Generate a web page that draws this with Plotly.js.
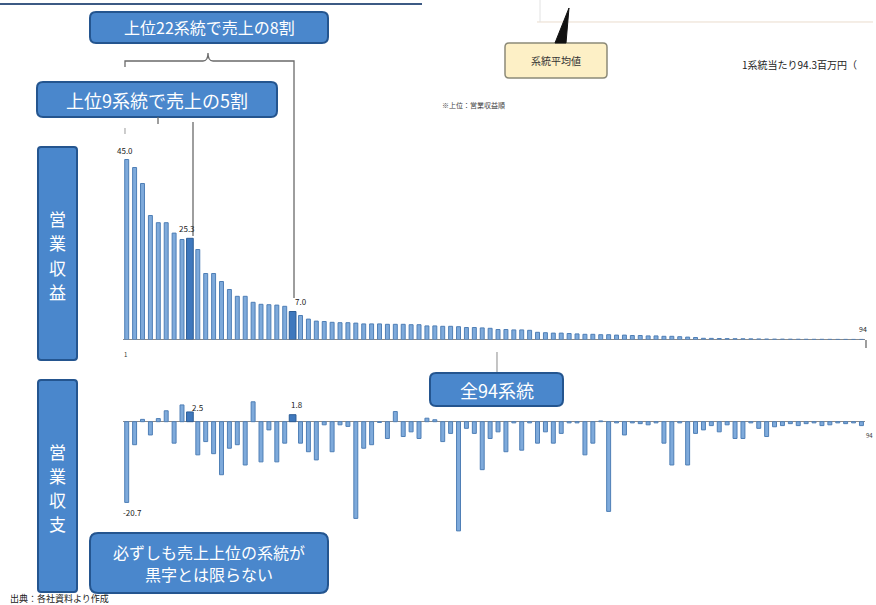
<!DOCTYPE html>
<html><head><meta charset="utf-8">
<script src="https://cdn.plot.ly/plotly-3.0.1.min.js"></script>
<style>html,body{margin:0;padding:0;background:#fff}#chart{width:876px;height:605px}</style>
</head><body><div id="chart"></div>
<script>
// ---- data ----
const routeNo = [1,2,3,4,5,6,7,8,9,10,11,12,13,14,15,16,17,18,19,20,21,22,23,24,25,26,27,28,29,30,
31,32,33,34,35,36,37,38,39,40,41,42,43,44,45,46,47,48,49,50,51,52,53,54,55,56,57,58,59,60,
61,62,63,64,65,66,67,68,69,70,71,72,73,74,75,76,77,78,79,80,81,82,83,84,85,86,87,88,89,90,91,92,93,94];
const revenue = [45.0,43.0,39.0,31.0,29.2,29.2,26.6,25.0,25.3,22.5,16.5,16.5,14.5,12.5,10.8,10.8,9.3,8.8,8.7,8.6,
8.3,7.0,6.0,5.1,4.6,4.5,4.3,4.2,4.2,4.1,3.9,3.9,3.9,3.8,3.8,3.8,3.7,3.7,3.4,3.4,
3.3,3.3,3.2,3.0,3.0,2.9,2.8,2.5,2.5,2.4,2.4,2.3,1.8,1.7,1.6,1.6,1.5,1.4,1.3,1.3,
1.2,1.2,1.1,1.1,1.0,1.0,0.9,0.9,0.8,0.8,0.7,0.6,0.5,0.3,0.28,0.25,0.22,0.2,0.18,0.16,
0.14,0.12,0.1,0.09,0.08,0.07,0.06,0.05,0.05,0.04,0.03,0.03,0.02,0.02];
const balance = [-20.7,-5.9,0.6,-3.4,0.8,2.8,-5.5,4.3,2.5,-8.5,-5.1,-8.2,-13.6,-6.8,-5.9,-11.1,5.1,-10.3,-2.1,-10.3,
-5.5,1.8,-5.5,-7.7,-9.8,-0.8,-7.7,-0.8,-1.2,-24.8,-6.8,-5.9,-0.2,-4.3,2.6,-3.8,-2.6,-4.3,0.9,0.5,
-5.1,-3.0,-28.0,-1.7,-3.0,-12.3,-4.3,-2.6,-7.7,-0.3,-7.3,-0.3,-5.5,-2.6,-5.5,-3.0,-0.3,-0.3,-8.5,-5.5,
0.2,-23.0,-0.3,-3.4,-0.3,-0.5,-0.8,-0.3,-5.5,-11.1,-0.3,-11.1,-3.0,-2.1,-1.0,-2.6,-0.8,-4.3,-4.3,-0.3,
-1.7,-3.8,-1.3,-1.0,-0.5,-1.0,-0.5,-0.3,-1.0,-0.8,-0.3,-0.5,-0.3,-1.0];
const highlighted = [1,9,22];   // labelled routes
const boxTop = "上位22系統で売上の8割";
const boxTop2 = "上位9系統で売上の5割";
const boxAll = "全94系統";
const boxNoteLines = ["必ずしも売上上位の系統が","黒字とは限らない"];
const labelRev = ["営","業","収","益"];
const labelBal = ["営","業","収","支"];

// ---- helpers (pixel -> paper) ----
const W=876,H=605;
const X=x=>x/W, Y=y=>1-y/H;
const f=v=>v.toFixed(5);
function rr(x0,y0,x1,y1,r){
  return `M ${f(X(x0+r))},${f(Y(y0))} L ${f(X(x1-r))},${f(Y(y0))} Q ${f(X(x1))},${f(Y(y0))} ${f(X(x1))},${f(Y(y0+r))} `+
  `L ${f(X(x1))},${f(Y(y1-r))} Q ${f(X(x1))},${f(Y(y1))} ${f(X(x1-r))},${f(Y(y1))} L ${f(X(x0+r))},${f(Y(y1))} `+
  `Q ${f(X(x0))},${f(Y(y1))} ${f(X(x0))},${f(Y(y1-r))} L ${f(X(x0))},${f(Y(y0+r))} Q ${f(X(x0))},${f(Y(y0))} ${f(X(x0+r))},${f(Y(y0))} Z`;
}
function poly(pts,close){
  return pts.map((p,i)=>(i?'L ':'M ')+f(X(p[0]))+','+f(Y(p[1]))).join(' ')+(close?' Z':'');
}
const BOXFILL='#4a87cc', BOXLINE='#24558f';
const box=(x0,y0,x1,y1,r)=>({type:'path',xref:'paper',yref:'paper',layer:'below',path:rr(x0,y0,x1,y1,r),fillcolor:BOXFILL,line:{color:BOXLINE,width:2}});
const ln=(pts,color,w)=>({type:'path',xref:'paper',yref:'paper',path:poly(pts,false),line:{color:color,width:w}});

const barColor = routeNo.map(n=>highlighted.includes(n)&&n!==1?'#3f78bd':'#7eaadb');
const lineColor = routeNo.map(n=>highlighted.includes(n)&&n!==1?'#2d5d96':'#4f7fb6');
const barW = routeNo.map(n=>highlighted.includes(n)&&n!==1?0.85:0.5);

const traces=[
 {type:'bar',x:routeNo,y:revenue,xaxis:'x',yaxis:'y',width:barW,
  marker:{color:barColor,line:{color:lineColor,width:1}},hoverinfo:'skip'},
 {type:'bar',x:routeNo,y:balance,xaxis:'x2',yaxis:'y2',width:barW,
  marker:{color:barColor,line:{color:lineColor,width:1}},hoverinfo:'skip'}
];

const xd=[X(122.75),X(865.4)];
const ax={showgrid:false,showticklabels:false,ticks:'',showline:false,zeroline:false,range:[0.5,94.5],fixedrange:true};
const font="'Noto Sans CJK JP','Noto Sans',sans-serif";

const ann=[];
const A=(x,y,text,size,color,extra)=>ann.push(Object.assign({xref:'paper',yref:'paper',x:X(x),y:Y(y),text:text,showarrow:false,
  xanchor:'center',yanchor:'middle',font:{family:font,size:size,color:color}},extra||{}));
A(209,27.5,boxTop,16,'#fff');
A(157,99.5,boxTop2,18,'#fff');
labelRev.forEach((c,i)=>A(57.5,219+i*24,c,17,'#fff'));
labelBal.forEach((c,i)=>A(57.5,451+i*24,c,17,'#fff'));
A(496.5,389.5,boxAll,18,'#fff');
boxNoteLines.forEach((t,i)=>A(209,552+i*22,t,16,'#fff'));
A(556,60,'系統平均値',10,'#333');
A(740,65,'1系統当たり94.3百万円（',10,'#222',{xanchor:'left'});
A(440,105,'※上位：営業収益順',7,'#444',{xanchor:'left'});
A(8,598,'出典：各社資料より作成',9,'#222',{xanchor:'left'});
A(125,354,String(routeNo[0]),6,'#333');
A(863,329,String(routeNo[93]),7,'#222');
A(869,435,String(routeNo[93]),6,'#333');
// bar value labels
const i1=0,i9=8,i22=21;
ann.push({xref:'x',yref:'y',x:routeNo[i1],y:revenue[i1],text:revenue[i1].toFixed(1),showarrow:false,yshift:9,xshift:-2,font:{family:font,size:8,color:'#222'}});
ann.push({xref:'x',yref:'y',x:routeNo[i9],y:revenue[i9],text:revenue[i9].toFixed(1),showarrow:false,yshift:10,xshift:-3,font:{family:font,size:8,color:'#222'}});
ann.push({xref:'x',yref:'y',x:routeNo[i22],y:revenue[i22],text:revenue[i22].toFixed(1),showarrow:false,yshift:10,xshift:8,font:{family:font,size:8,color:'#222'}});
ann.push({xref:'x2',yref:'y2',x:routeNo[i1],y:balance[i1],text:balance[i1].toFixed(1),showarrow:false,yshift:-10,xshift:6,font:{family:font,size:8,color:'#222'}});
ann.push({xref:'x2',yref:'y2',x:routeNo[i9],y:balance[i9],text:balance[i9].toFixed(1),showarrow:false,yshift:4,xshift:8,font:{family:font,size:8,color:'#222'}});
ann.push({xref:'x2',yref:'y2',x:routeNo[i22],y:balance[i22],text:balance[i22].toFixed(1),showarrow:false,yshift:10,xshift:4,font:{family:font,size:8,color:'#222'}});

const shapes=[
 ln([[0,4],[422,4]],'#3c5a84',2),
 ln([[537,22],[873,22]],'#eadccd',1),
 ln([[540,0],[540,22]],'#e2e2e2',1),
 ln([[125,67],[125,61],[203,61]],'#6a6a6a',1.3),
 {type:'path',xref:'paper',yref:'paper',path:`M ${f(X(203))},${f(Y(61))} Q ${f(X(208))},${f(Y(61))} ${f(X(208))},${f(Y(53))} Q ${f(X(208))},${f(Y(61))} ${f(X(213))},${f(Y(61))}`,line:{color:'#6a6a6a',width:1.3}},
 ln([[213,61],[294,61],[294,298]],'#6a6a6a',1.3),
 ln([[158,117],[158,124]],'#6a6a6a',1.3),
 ln([[193,122],[193,236]],'#6a6a6a',1.3),
 ln([[125,128],[125,134]],'#9a9a9a',1),
 ln([[497,352],[497,372]],'#8a8a8a',1),
 ln([[866,340],[866,348]],'#6a6a6a',1.3),
 box(90,12,328,43,6),
 box(37,82,277,117,6),
 box(38,147,77,360,3),
 box(38,380,77,592,3),
 box(430,373,563,406,6),
 box(90,533,328,593,8),
 {type:'path',xref:'paper',yref:'paper',layer:'below',path:rr(505,43,607,78,4),fillcolor:'#fdf0c6',line:{color:'#8c8a78',width:1.5}},
 {type:'path',xref:'paper',yref:'paper',path:poly([[555,43],[566,43],[569,8]],true),fillcolor:'#111',line:{color:'#111',width:1}}
];

const layout={
 width:W,height:H,margin:{l:0,r:0,t:0,b:0},paper_bgcolor:'#fff',plot_bgcolor:'rgba(0,0,0,0)',
 showlegend:false,bargap:0,font:{family:font},
 xaxis:Object.assign({},ax,{domain:xd,anchor:'y'}),
 yaxis:{domain:[Y(339.5),Y(155.5)],range:[0,46],showgrid:false,showticklabels:false,ticks:'',zeroline:true,zerolinecolor:'#8a8a8a',zerolinewidth:1.5,anchor:'x',fixedrange:true},
 xaxis2:Object.assign({},ax,{domain:xd,anchor:'y2'}),
 yaxis2:{domain:[Y(534.8),Y(398.3)],range:[-29,6],showgrid:false,showticklabels:false,ticks:'',zeroline:true,zerolinecolor:'#8a8a8a',zerolinewidth:1.5,anchor:'x2',fixedrange:true},
 shapes:shapes,annotations:ann
};
Plotly.newPlot('chart',traces,layout,{staticPlot:true,displayModeBar:false});
</script></body></html>
